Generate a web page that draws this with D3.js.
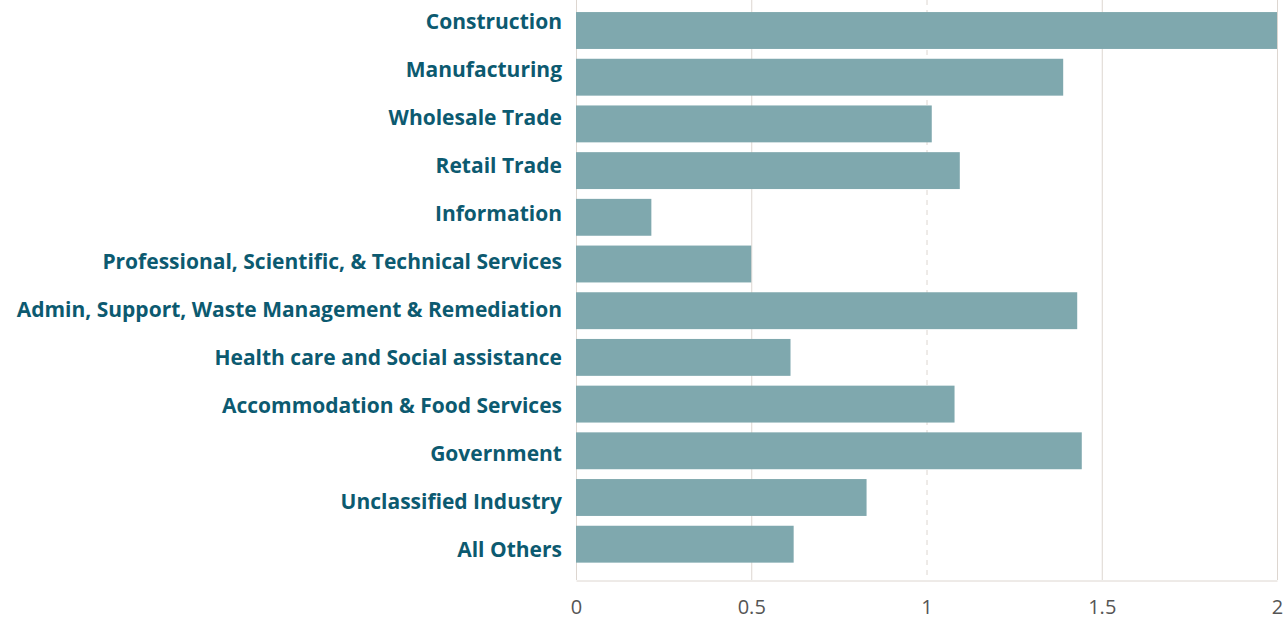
<!DOCTYPE html>
<html>
<head>
<meta charset="utf-8">
<script src="https://cdn.jsdelivr.net/npm/d3@7"></script>
<style>
  body { margin: 0; background: #fff; }
  .label { font-family: "Open Sans", sans-serif; font-weight: 700; font-size: 21px; fill: #0c5a70; }
  .tick text { font-family: "Open Sans", sans-serif; font-size: 20px; fill: #555; }
</style>
</head>
<body>
<svg id="chart" width="1287" height="620"></svg>
<script>
const categories = [
  'Construction',
  'Manufacturing',
  'Wholesale Trade',
  'Retail Trade',
  'Information',
  'Professional, Scientific, & Technical Services',
  'Admin, Support, Waste Management & Remediation',
  'Health care and Social assistance',
  'Accommodation & Food Services',
  'Government',
  'Unclassified Industry',
  'All Others'
];
const values = [2.0, 1.39, 1.015, 1.095, 0.215, 0.5, 1.43, 0.612, 1.08, 1.443, 0.829, 0.621];
const tickValues = [0, 0.5, 1, 1.5, 2];

const svg = d3.select('#chart');
const left = 576, right = 1277, bottom = 580;

const x = d3.scaleLinear().domain([0, 2]).range([left, right]);
const y = d3.scaleBand()
  .domain(categories)
  .range([0, bottom])
  .paddingInner(0.21)
  .paddingOuter(0.315)
  .align(0.41);

// labels sit on their own, slightly wider spacing
const yLabel = d3.scalePoint()
  .domain(categories)
  .range([22, 550]);

// grid lines
svg.append('g')
  .selectAll('line')
  .data(tickValues.slice(1))
  .join('line')
  .attr('x1', (d) => x(d) + 0.5)
  .attr('x2', (d) => x(d) + 0.5)
  .attr('y1', 0)
  .attr('y2', bottom)
  .attr('stroke', '#ddd6d0')
  .attr('stroke-width', 1)
  .attr('stroke-dasharray', (d) => d === 1 ? '5,5' : null);

// left axis line
svg.append('line')
  .attr('x1', left + 0.5).attr('x2', left + 0.5)
  .attr('y1', 0).attr('y2', bottom)
  .attr('stroke', '#ddd6d0');

svg.append('g')
  .selectAll('rect')
  .data(values)
  .join('rect')
  .attr('x', x(0))
  .attr('y', (d, i) => y(categories[i]))
  .attr('width', (d) => x(d) - x(0))
  .attr('height', y.bandwidth())
  .attr('fill', '#7fa8ae');

svg.append('g')
  .selectAll('text')
  .data(categories)
  .join('text')
  .classed('label', true)
  .attr('x', left - 14)
  .attr('y', (d) => yLabel(d))
  .attr('dy', '0.35em')
  .attr('text-anchor', 'end')
  .text((d) => d);

const xAxis = svg.append('g')
  .attr('transform', `translate(0, ${bottom + 0.5})`)
  .call(d3.axisBottom(x).tickValues(tickValues).tickSize(0).tickPadding(19).tickFormat(d3.format('')));

xAxis.select('.domain').attr('stroke', '#ddd6d0');
</script>
</body>
</html>
